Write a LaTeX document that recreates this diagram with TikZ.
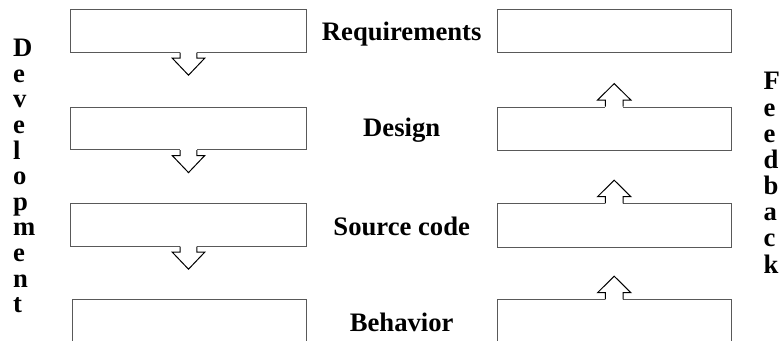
\documentclass[tikz,border=0pt]{standalone}
\usepackage{fontspec}
\setmainfont{Liberation Serif}
\usetikzlibrary{calc}
\begin{document}
\begin{tikzpicture}[x=0.5pt,y=-0.5pt,
  boxL/.style={draw=black!65,line width=0.5pt,minimum width=118pt,minimum height=21.2pt,anchor=north west,inner sep=0pt},
  boxR/.style={draw=black!65,line width=0.5pt,minimum width=117pt,minimum height=21.6pt,anchor=north west,inner sep=0pt},
  lbl/.style={font=\fontsize{13.33pt}{16pt}\selectfont\bfseries,inner sep=0pt,anchor=base},
  vch/.style={font=\fontsize{13.33pt}{16pt}\selectfont\bfseries,inner sep=0pt,anchor=base west},
  arr/.style={draw=black,line width=0.5pt,line join=miter}]
\useasboundingbox (0,0) rectangle (779,341);
\clip (0,0) rectangle (779,341);
% left boxes
\node[boxL] (L1) at (70,9.3) {};
\node[boxL] (L2) at (70,106.7) {};
\node[boxL] (L3) at (70,203.3) {};
\node[boxL,minimum width=116.85pt,minimum height=30pt] (L4) at (72.3,299) {};
% right boxes
\node[boxR] (R1) at (496.7,9.3) {};
\node[boxR] (R2) at (496.7,106.7) {};
\node[boxR] (R3) at (496.7,203.3) {};
\node[boxR,minimum height=30pt] (R4) at (496.7,299.3) {};
% down arrows
\foreach \b in {L1,L2,L3}{
  \fill[white] ($(\b.south)+(-8.35,-1.5)$) rectangle ($(\b.south)+(8.35,5.5)$);
  \draw[arr] ($(\b.south)+(-8.35,0)$) -- ++(0,5.5) -- ++(-7.85,0) -- ++(16.2,17) -- ++(16.2,-17) -- ++(-7.85,0) -- ++(0,-5.5);
}
% up arrows
\foreach \b in {R2,R3,R4}{
  \fill[white] ($(\b.north)+(-8.8,1.5)$) rectangle ($(\b.north)+(8.8,-6.6)$);
  \draw[arr] ($(\b.north)+(-8.8,0)$) -- ++(0,-6.6) -- ++(-7.9,0) -- ++(16.7,-16.5) -- ++(16.7,16.5) -- ++(-7.9,0) -- ++(0,6.6);
}
% labels
\node[lbl] (req) at (401.7,40.7) {Requirements};
\node[lbl] (des) at (401.7,136.7) {Design};
\node[lbl] (src) at (401.7,235) {Source code};
\node[lbl] (beh) at (401.7,331) {Behavior};
% vertical words
\foreach \c [count=\i] in {D,e,v,e,l,o,p,m,e,n,t}{
  \node[vch] (dev\i) at (12.7,{56.7+(\i-1)*25.6}) {\c};
}
\foreach \c [count=\i] in {F,e,e,d,b,a,c,k}{
  \node[vch] (fb\i) at (763.3,{90+(\i-1)*26.15}) {\c};
}
\end{tikzpicture}
\end{document}
